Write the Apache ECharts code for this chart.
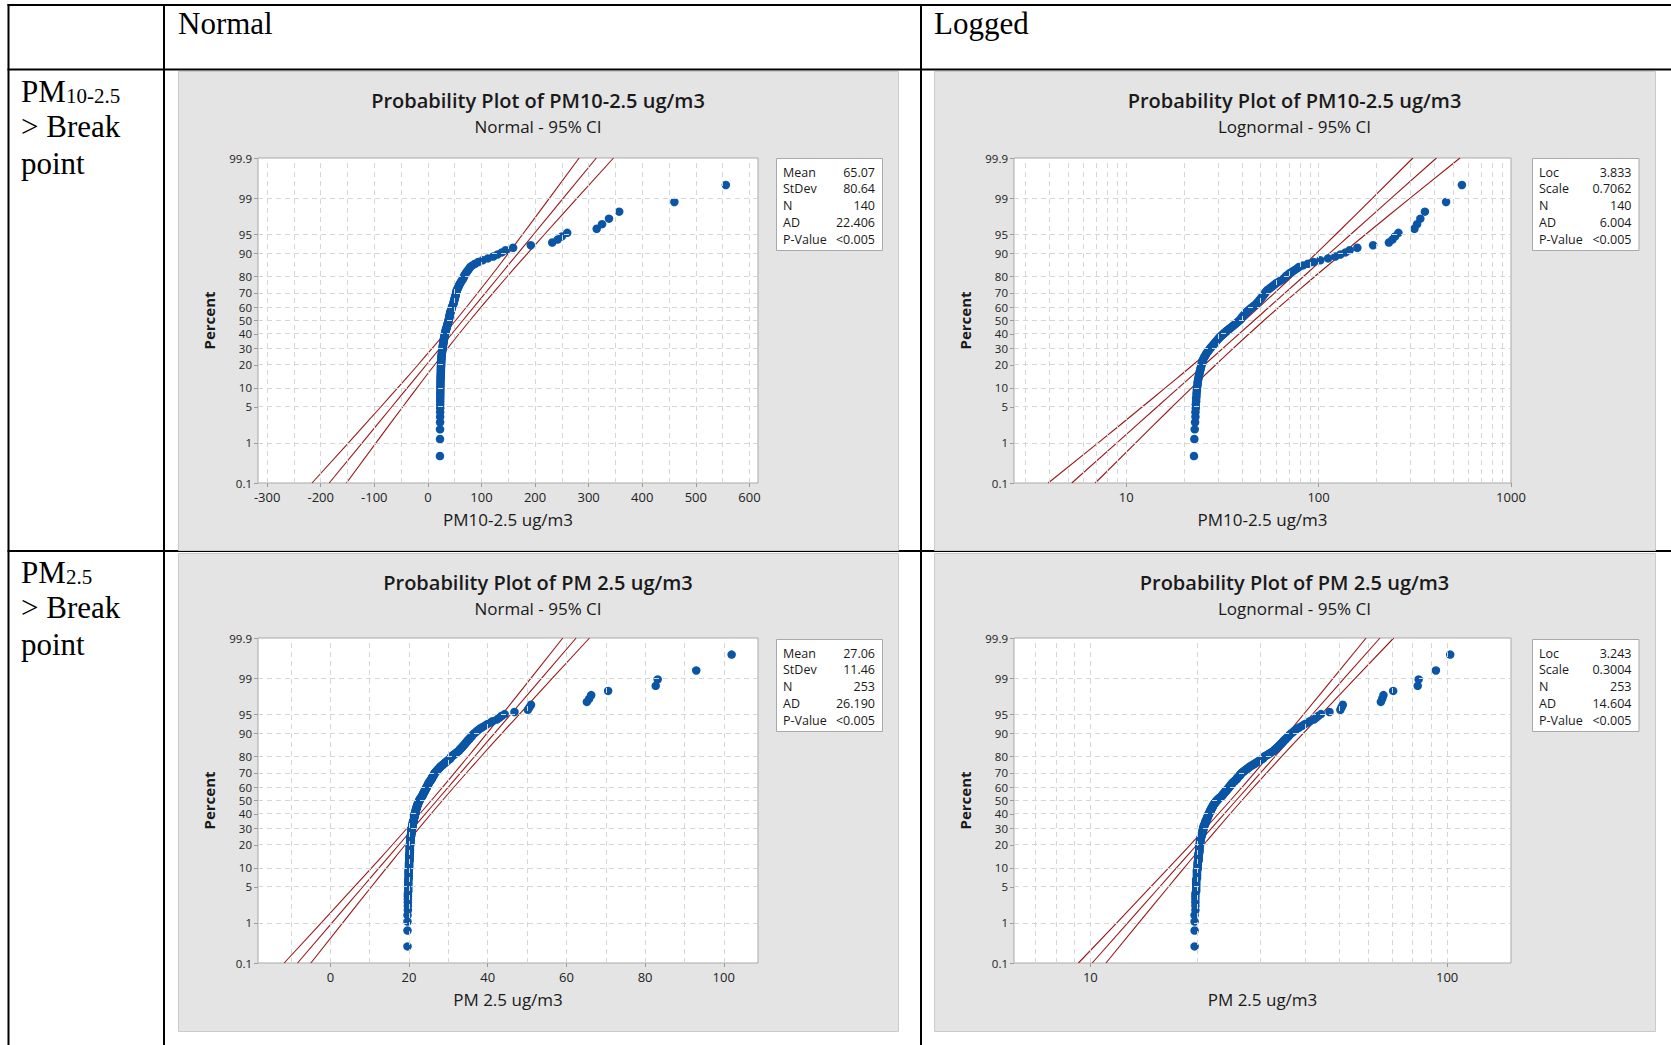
<!DOCTYPE html>
<html><head><meta charset="utf-8">
<script src="https://cdn.jsdelivr.net/npm/echarts@6/dist/echarts.min.js"></script>
<style>html,body{margin:0;padding:0;background:#fff;}#c{width:1671px;height:1045px;}</style>
</head><body><div id="c"></div>
<script>
// ---------------- DATA ----------------
// PM10-2.5 sorted sample values (n = 140)
const PM10_25 = [
 22.5,22.6,22.7,22.8,22.9,22.9,23.0,23.0,23.1,23.1,
 23.2,23.2,23.3,23.3,23.4,23.5,23.5,23.6,23.7,23.8,
 23.9,24.0,24.1,24.2,24.3,24.4,24.5,24.6,24.7,24.8,
 24.9,25.0,25.2,25.4,25.6,25.8,26.0,26.2,26.5,26.8,
 27.0,27.3,27.6,27.9,28.2,28.5,28.8,29.1,29.4,29.7,
 30.0,30.3,30.6,31.0,31.4,31.8,32.2,32.6,33.0,33.5,
 34.0,34.5,35.0,35.5,36.0,36.5,37.0,37.5,38.0,38.5,
 39.0,39.4,39.7,40.0,40.4,40.8,41.2,41.6,42.0,42.5,
 43.0,43.6,44.2,44.8,45.5,46.2,47.0,47.5,48.0,48.5,
 49.0,49.5,50.0,50.5,51.0,51.5,52.0,52.5,53.0,53.5,
 54,55,56,57,58,59,60,61.5,63,64.5,
 66,67,68,69.5,71,73,75,77,79,83,
 88,94,102,112,122,130,138,145,159,192,
 232,242,250,260,315,325,338,357,460,556
];
// PM2.5 sorted sample values (n = 253)
const PM25 = [
 19.6,19.6,19.6,19.6,19.7,19.7,19.7,19.7,19.7,19.7,
 19.8,19.8,19.8,19.8,19.8,19.8,19.8,19.9,19.9,19.9,
 19.9,19.9,19.9,19.9,20.0,20.0,20.0,20.0,20.0,20.0,
 20.0,20.1,20.1,20.1,20.1,20.1,20.1,20.1,20.1,20.1,
 20.2,20.2,20.2,20.2,20.2,20.2,20.2,20.2,20.2,20.2,
 20.3,20.3,20.3,20.3,20.3,20.3,20.3,20.4,20.4,20.4,
 20.4,20.4,20.5,20.5,20.5,20.5,20.6,20.6,20.6,20.6,
 20.6,20.7,20.7,20.7,20.7,20.7,20.8,20.8,20.8,20.8,
 20.9,20.9,20.9,21.0,21.0,21.0,21.0,21.1,21.1,21.1,
 21.2,21.2,21.2,21.3,21.3,21.3,21.4,21.4,21.4,21.4,
 21.5,21.5,21.5,21.6,21.6,21.7,21.7,21.7,21.8,21.8,
 21.8,21.9,21.9,22.0,22.0,22.0,22.1,22.1,22.2,22.2,
 22.3,22.3,22.4,22.4,22.5,22.6,22.6,22.7,22.8,22.9,
 22.9,23.0,23.1,23.2,23.3,23.4,23.4,23.5,23.6,23.6,
 23.7,23.8,23.8,23.9,24.0,24.0,24.1,24.2,24.3,24.3,
 24.4,24.5,24.5,24.6,24.7,24.8,24.8,24.9,24.9,25.0,
 25.1,25.2,25.3,25.4,25.5,25.6,25.7,25.8,25.8,25.9,
 26.0,26.1,26.2,26.3,26.3,26.4,26.5,26.6,26.7,26.9,
 27.0,27.1,27.3,27.4,27.6,27.7,27.9,28.0,28.2,28.4,
 28.6,28.8,29.0,29.2,29.4,29.6,29.8,30.0,30.3,30.5,
 30.6,30.7,30.8,31.1,31.4,31.6,31.9,32.1,32.4,32.6,
 32.8,33.0,33.2,33.4,33.6,33.8,34.0,34.2,34.4,34.6,
 34.8,35.0,35.3,35.5,35.8,36.0,36.2,36.5,36.9,37.2,
 37.6,38.0,38.6,39.2,39.8,40.5,41.2,42.3,42.9,43.5,
 44.3,46.8,50.2,50.6,51.0,65.2,65.8,66.3,70.6,82.7,
 83.2,93.0,102.0
];

// percent ticks of the probability axis
const PCT_TICKS = [0.1,1,5,10,20,30,40,50,60,70,80,90,95,99,99.9];
const PCT_GRID  = [1,5,10,20,30,40,50,60,70,80,90,95,99];

// fitted line and 95% CI read at these percents
const LINE_PCT = [0.1,1,5,10,20,50,80,90,95,99,99.9];
const P1_LOW = [-216.2,-148.2,-88.1,-56.3,-18.3,51.7,117.4,150.4,177.2,226.9,282.2];
const P1_FIT = [-184.1,-122.5,-67.6,-38.3,-2.8,65.1,132.9,168.4,197.7,252.7,314.3];
const P1_UP  = [-152.0,-96.8,-47.1,-20.3,12.7,78.4,148.5,186.5,218.2,278.4,346.4];
const P2_LOW = [3.93,7.14,12.09,15.96,22.26,41.10,73.06,97.53,123.4,190.7,309.2];
const P2_FIT = [5.21,8.94,14.46,18.69,25.50,46.20,83.71,114.2,147.6,238.8,409.9];
const P2_UP  = [6.90,11.20,17.30,21.88,29.22,51.94,95.91,133.8,176.6,299.1,543.2];
const P3_LOW = [-11.75,-2.32,6.04,10.47,15.77,25.65,35.06,39.84,43.75,51.00,59.08];
const P3_FIT = [-8.35,0.40,8.21,12.37,17.42,27.06,36.71,41.75,45.91,53.72,62.47];
const P3_UP  = [-4.96,3.12,10.38,14.28,19.06,28.47,38.35,43.65,48.08,56.44,65.87];
const P4_LOW = [9.26,11.86,14.76,16.58,19.05,24.68,31.59,35.80,39.66,47.97,59.27];
const P4_FIT = [10.12,12.73,15.63,17.43,19.89,25.61,32.98,37.64,41.98,51.51,64.81];
const P4_UP  = [11.06,13.67,16.54,18.32,20.77,26.58,34.43,39.57,44.43,55.32,70.84];

// x axis ticks and grid values
const P1_XTICKS = [-300,-200,-100,0,100,200,300,400,500,600];
const P1_XGRID  = [-300,-250,-200,-150,-100,-50,0,50,100,150,200,250,300,350,400,450,500,550,600];
const P2_XTICKS = [10,100,1000];
const P2_XGRID  = [3,4,5,6,7,8,9,10,20,30,40,50,60,70,80,90,100,200,300,400,500,600,700,800,900];
const P3_XTICKS = [0,20,40,60,80,100];
const P3_XGRID  = [-10,0,10,20,30,40,50,60,70,80,90,100];
const P4_XTICKS = [10,100];
const P4_XGRID  = [7,8,9,10,20,30,40,50,60,70,80,90,100];

// texts
const TITLES = ['Probability Plot of PM10-2.5 ug/m3','Probability Plot of PM10-2.5 ug/m3','Probability Plot of PM 2.5 ug/m3','Probability Plot of PM 2.5 ug/m3'];
const SUBTITLES = ['Normal - 95% CI','Lognormal - 95% CI','Normal - 95% CI','Lognormal - 95% CI'];
const XNAMES = ['PM10-2.5 ug/m3','PM10-2.5 ug/m3','PM 2.5 ug/m3','PM 2.5 ug/m3'];
const STAT_LABELS_NORMAL = ['Mean','StDev','N','AD','P-Value'];
const STAT_LABELS_LOG = ['Loc','Scale','N','AD','P-Value'];
const P1_STATS = ['65.07','80.64','140','22.406','<0.005'];
const P2_STATS = ['3.833','0.7062','140','6.004','<0.005'];
const P3_STATS = ['27.06','11.46','253','26.190','<0.005'];
const P4_STATS = ['3.243','0.3004','253','14.604','<0.005'];
const COL_HEADERS = ['Normal','Logged'];
const ROW_MAIN = ['PM','PM'];
const ROW_SUB = ['10-2.5','2.5'];
const ROW_REST = ['> Break','point'];

// ---------------- HELPERS ----------------
function normInv(p){
 const a=[-3.969683028665376e+01,2.209460984245205e+02,-2.759285104469687e+02,1.383577518672690e+02,-3.066479806614716e+01,2.506628277459239e+00];
 const b=[-5.447609879822406e+01,1.615858368580409e+02,-1.556989798598866e+02,6.680131188771972e+01,-1.328068155288572e+01];
 const c=[-7.784894002430293e-03,-3.223964580411365e-01,-2.400758277161838e+00,-2.549732539343734e+00,4.374664141464968e+00,2.938163982698783e+00];
 const d=[7.784695709041462e-03,3.224671290700398e-01,2.445134137142996e+00,3.754408661907416e+00];
 const pl=0.02425, ph=1-pl; let q,r;
 if(p<pl){q=Math.sqrt(-2*Math.log(p));return (((((c[0]*q+c[1])*q+c[2])*q+c[3])*q+c[4])*q+c[5])/((((d[0]*q+d[1])*q+d[2])*q+d[3])*q+1);}
 if(p<=ph){q=p-0.5;r=q*q;return (((((a[0]*r+a[1])*r+a[2])*r+a[3])*r+a[4])*r+a[5])*q/(((((b[0]*r+b[1])*r+b[2])*r+b[3])*r+b[4])*r+1);}
 q=Math.sqrt(-2*Math.log(1-p));return -(((((c[0]*q+c[1])*q+c[2])*q+c[3])*q+c[4])*q+c[5])/((((d[0]*q+d[1])*q+d[2])*q+d[3])*q+1);
}
const Z_TICKS = PCT_TICKS.map(p=>normInv(p/100));
const Z_MIN = Z_TICKS[0], Z_MAX = Z_TICKS[Z_TICKS.length-1];
function pctLabel(v){
 for(let i=0;i<Z_TICKS.length;i++){ if(Math.abs(Z_TICKS[i]-v)<1e-6) return String(PCT_TICKS[i]); }
 return '';
}
function probPoints(vals){ const n=vals.length; return vals.map((v,i)=>[v, normInv((i+1-0.3)/(n+0.4))]); }
function linePoints(xs){ return xs.map((x,i)=>[x, normInv(LINE_PCT[i]/100)]); }

const FONT = 'Open Sans';
const TXT = '#1a1a1a';
const AX = '#9c9c9c';

const GRIDS = [
 {left:258, top:158, width:500, height:325},
 {left:1014, top:158, width:497, height:325},
 {left:258, top:638, width:500, height:325},
 {left:1014, top:638, width:497, height:325}
];
const XCONF = [
 {type:'value', min:-317, max:616, ticks:P1_XTICKS, grid:P1_XGRID},
 {type:'log', min:2.61, max:1000.5, ticks:P2_XTICKS, grid:P2_XGRID},
 {type:'value', min:-18.4, max:108.7, ticks:P3_XTICKS, grid:P3_XGRID},
 {type:'log', min:6.11, max:151, ticks:P4_XTICKS, grid:P4_XGRID}
];
const DATASETS = [PM10_25, PM10_25, PM25, PM25];
const LINES = [[P1_LOW,P1_FIT,P1_UP],[P2_LOW,P2_FIT,P2_UP],[P3_LOW,P3_FIT,P3_UP],[P4_LOW,P4_FIT,P4_UP]];

const grid=[], xAxis=[], yAxis=[], series=[];
GRIDS.forEach((g,i)=>{
 grid.push(Object.assign({show:true, backgroundColor:'#ffffff', borderColor:'#a9a9a9', borderWidth:1, containLabel:false, outerBoundsMode:'none'}, g));
 const xc = XCONF[i];
 const xa = {gridIndex:i, type:xc.type, min:xc.min, max:xc.max, name:XNAMES[i], nameLocation:'middle', nameGap:28,
   nameTextStyle:{fontFamily:FONT, fontSize:17, color:TXT},
   axisLine:{show:false, onZero:false},
   axisTick:{show:true, customValues:xc.ticks, length:4, lineStyle:{color:AX}},
   axisLabel:{show:true, customValues:xc.ticks, margin:7, fontFamily:FONT, fontSize:13, color:'#222',
     formatter:(v)=>String(Math.round(v))},
   splitLine:{show:false}, minorTick:{show:false}, minorSplitLine:{show:false}};
 if(xc.type==='log') xa.logBase = 10;
 xAxis.push(xa);
 yAxis.push({gridIndex:i, type:'value', min:Z_MIN, max:Z_MAX, name:'Percent', nameLocation:'middle', nameGap:42,
   nameTextStyle:{fontFamily:FONT, fontSize:15, fontWeight:'bold', color:TXT},
   axisLine:{show:false, onZero:false},
   axisTick:{show:true, customValues:Z_TICKS, length:4, lineStyle:{color:AX}},
   axisLabel:{show:true, customValues:Z_TICKS, margin:6, fontFamily:FONT, fontSize:11.5, lineHeight:11, color:'#222', formatter:(v)=>pctLabel(v)},
   splitLine:{show:false}});
 // dashed reference grid
 series.push({type:'line', xAxisIndex:i, yAxisIndex:i, data:[], silent:true, z:1,
   markLine:{silent:true, symbol:['none','none'], animation:false, label:{show:false},
     lineStyle:{color:'#d6d6d6', type:[5,4], width:1},
     emphasis:{disabled:true},
     data:[...xc.grid.map(v=>({xAxis:v})), ...PCT_GRID.map(p=>({yAxis:normInv(p/100)}))]}});
 LINES[i].forEach(arr=>{
   series.push({type:'line', xAxisIndex:i, yAxisIndex:i, data:linePoints(arr), smooth:true, symbol:'none', silent:true, z:2,
     lineStyle:{color:'#981818', width:1.1}});
 });
 series.push({type:'scatter', xAxisIndex:i, yAxisIndex:i, data:probPoints(DATASETS[i]), symbol:'circle', symbolSize:8.5, z:3, silent:true,
   itemStyle:{color:'#0a55a6', opacity:1}});
});

// ---------------- GRAPHICS (table, panels, texts) ----------------
const G = [];
const L = (x1,y1,x2,y2)=>({type:'line', silent:true, z:-3, shape:{x1,y1,x2,y2}, style:{stroke:'#000', lineWidth:2}});
G.push(L(7.5,5,1671,5), L(7.5,69.5,1671,69.5), L(7.5,551,1671,551), L(8.5,4,8.5,1045), L(164,4,164,1045), L(921,4,921,1045));
const PANELS = [[178.5,71.5,720,479],[934.5,71.5,721,479],[178.5,553.5,720,478],[934.5,553.5,721,478]];
PANELS.forEach(p=>G.push({type:'rect', silent:true, z:-2, shape:{x:p[0],y:p[1],width:p[2],height:p[3]}, style:{fill:'#e4e4e4', stroke:'#cacaca', lineWidth:1}}));
const T = (x,y,text,size,opts)=>Object.assign({type:'text', silent:true, z:20, x, y,
  style:Object.assign({text, fontFamily:FONT, fontSize:size, fill:TXT, align:'left', verticalAlign:'middle'}, opts||{})});
// table header & row labels
const SERIF = 'Liberation Serif';
G.push(T(178,23,COL_HEADERS[0],31,{fontFamily:SERIF, fill:'#000'}));
G.push(T(934,23,COL_HEADERS[1],31,{fontFamily:SERIF, fill:'#000'}));
[[91,0],[572,1]].forEach(([y,k])=>{
 G.push(T(21,y,ROW_MAIN[k],31,{fontFamily:SERIF, fill:'#000'}));
 G.push(T(66,y+5,ROW_SUB[k],21,{fontFamily:SERIF, fill:'#000'}));
 G.push(T(21,y+35,ROW_REST[0],31,{fontFamily:SERIF, fill:'#000'}));
 G.push(T(21,y+72,ROW_REST[1],31,{fontFamily:SERIF, fill:'#000'}));
});
// plot titles
const TCX = [538,1294.5,538,1294.5], TY = [100,100,582,582];
for(let i=0;i<4;i++){
 G.push(T(TCX[i],TY[i],TITLES[i],20,{align:'center', fontWeight:600}));
 G.push(T(TCX[i],TY[i]+26,SUBTITLES[i],17,{align:'center'}));
}
// stat boxes
const BOXES = [[776,158,106,92],[1532,158,106.5,92],[776,639,106,92],[1532,639,106.5,92]];
const STATS = [P1_STATS,P2_STATS,P3_STATS,P4_STATS];
const SLAB = [STAT_LABELS_NORMAL,STAT_LABELS_LOG,STAT_LABELS_NORMAL,STAT_LABELS_LOG];
BOXES.forEach((b,i)=>{
 G.push({type:'rect', silent:true, z:15, shape:{x:b[0]+0.5,y:b[1]+0.5,width:b[2],height:b[3]}, style:{fill:'#fff', stroke:'#a9a9a9', lineWidth:1}});
 for(let k=0;k<5;k++){
   const y = b[1]+14+k*16.8;
   G.push(T(b[0]+7,y,SLAB[i][k],12.5));
   G.push(T(b[0]+b[2]-7,y,STATS[i][k],12.5,{align:'right'}));
 }
});

const chart = echarts.init(document.getElementById('c'), null, {renderer:'svg'});
chart.setOption({animation:false, backgroundColor:'#ffffff', grid, xAxis, yAxis, series, graphic:{elements:G}});
</script></body></html>
